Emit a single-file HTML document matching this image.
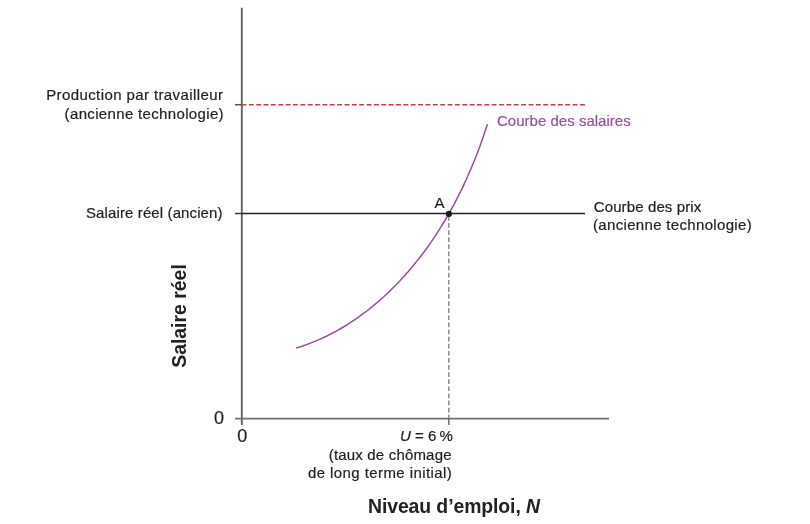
<!DOCTYPE html>
<html><head><meta charset="utf-8"><style>
html,body{margin:0;padding:0;background:#fff;}
body{width:810px;height:524px;overflow:hidden;}
svg{display:block;will-change:transform;}
text{font-family:"Liberation Sans",sans-serif;fill:#1e1e1e;stroke:#1e1e1e;stroke-width:0.2px;}
</style></head><body>
<svg width="810" height="524" viewBox="0 0 810 524">
<line x1="241.8" y1="7.8" x2="241.8" y2="425" stroke="#626262" stroke-width="1.9"/>
<line x1="235" y1="418.7" x2="609" y2="418.7" stroke="#707070" stroke-width="1.8"/>
<line x1="235" y1="104.7" x2="242" y2="104.7" stroke="#555" stroke-width="1.5"/>
<line x1="235" y1="213.5" x2="242" y2="213.5" stroke="#3a3a3a" stroke-width="1.5"/>
<line x1="241.5" y1="104.7" x2="585" y2="104.7" stroke="#cc3a44" stroke-width="1.5" stroke-dasharray="4.8 2.56"/>
<line x1="242" y1="213.5" x2="585" y2="213.5" stroke="#222" stroke-width="1.5"/>
<line x1="448.8" y1="216" x2="448.8" y2="418" stroke="#8c8c8c" stroke-width="1.5" stroke-dasharray="4.7 2.4"/>
<line x1="448.8" y1="418" x2="448.8" y2="425" stroke="#707070" stroke-width="1.5"/>
<polyline points="296.0,348.1 302.0,346.2 307.9,344.1 313.7,341.9 319.5,339.4 325.2,336.8 330.8,334.0 336.3,331.1 341.7,328.0 347.0,324.8 352.3,321.4 357.4,317.9 362.5,314.2 367.5,310.5 372.3,306.6 377.1,302.6 381.8,298.5 386.4,294.2 390.9,289.9 395.4,285.5 399.7,281.0 403.9,276.4 408.1,271.7 412.1,266.9 416.1,262.1 420.0,257.2 423.8,252.2 427.5,247.2 431.1,242.1 434.6,236.9 438.0,231.7 441.3,226.4 444.6,221.0 447.7,215.7 450.8,210.2 453.8,204.8 456.7,199.2 459.5,193.7 462.3,188.1 464.9,182.4 467.5,176.8 470.0,171.0 472.4,165.3 474.8,159.5 477.1,153.7 479.3,147.9 481.4,142.0 483.5,136.1 485.5,130.1 487.4,124.2" fill="none" stroke="#94509a" stroke-width="1.5"/>
<circle cx="448.9" cy="213.9" r="3.05" fill="#1a1a1a"/>
<g font-size="15">
<text x="46.2" y="100" textLength="176.7" lengthAdjust="spacing">Production par travailleur</text>
<text x="64.6" y="118.6" textLength="159" lengthAdjust="spacing">(ancienne technologie)</text>
<text x="86" y="217.6" textLength="136.5" lengthAdjust="spacing">Salaire réel (ancien)</text>
<text x="593.7" y="211.9" textLength="107.6" lengthAdjust="spacing">Courbe des prix</text>
<text x="593" y="229.9" textLength="158.7" lengthAdjust="spacing">(ancienne technologie)</text>
<text x="497" y="126.3" textLength="133.7" lengthAdjust="spacing" style="fill:#93509a;stroke:#93509a">Courbe des salaires</text>
<text x="434.6" y="207.9">A</text>
<text y="441.3"><tspan x="400" font-style="italic">U</tspan><tspan x="415">=</tspan><tspan x="428">6</tspan><tspan x="439.4">%</tspan></text>
<text x="328.7" y="459.9" textLength="122.8" lengthAdjust="spacing">(taux de chômage</text>
<text x="308" y="478.4" textLength="143.8" lengthAdjust="spacing">de long terme initial)</text>
</g>
<text x="224" y="423.5" font-size="18" text-anchor="end">0</text>
<text x="242.2" y="441.6" font-size="18" text-anchor="middle">0</text>
<text transform="translate(185.7,367.8) rotate(-90)" font-size="19.4" font-weight="bold" textLength="103.6" lengthAdjust="spacing" style="fill:#222;stroke:none">Salaire réel</text>
<text x="368" y="512.8" font-size="19.4" font-weight="bold" textLength="172" lengthAdjust="spacing" style="fill:#222;stroke:none">Niveau d’emploi, <tspan font-style="italic">N</tspan></text>
</svg>
</body></html>
